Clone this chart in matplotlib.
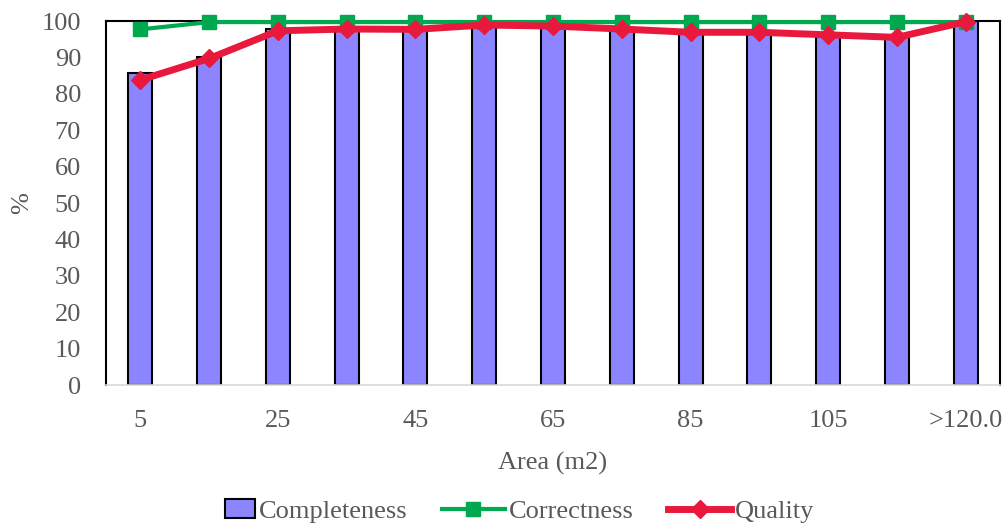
import matplotlib
matplotlib.use("Agg")
import matplotlib.pyplot as plt
from matplotlib.legend_handler import HandlerPatch
from matplotlib.patches import Rectangle
import numpy as np

categories = ["5", "15", "25", "35", "45", "55", "65", "75", "85", "95", "105", "115", ">120.0"]
completeness = [85.8, 90.0, 97.8, 98.0, 97.8, 99.0, 98.7, 98.0, 97.2, 97.0, 96.5, 95.8, 100.0]
correctness = [97.7, 99.7, 99.7, 99.7, 99.7, 99.7, 99.7, 99.7, 99.7, 99.7, 99.7, 99.7, 99.7]
quality = [83.8, 89.7, 97.3, 97.8, 97.7, 98.9, 98.6, 97.8, 96.9, 96.9, 96.2, 95.5, 99.8]
yticks = list(range(0, 101, 10))

plt.rcParams['font.family'] = ['Liberation Serif', 'DejaVu Serif']
text_color = '#595959'
fs = 19

fig = plt.figure(figsize=(10.06, 5.26), dpi=100)
ax = fig.add_axes([106 / 1006, 1 - 385 / 526, (1000 - 106) / 1006, (385 - 21) / 526])

x = np.arange(len(categories))
bars = ax.bar(x, completeness, width=0.35, color='#8C85FF', edgecolor='black', linewidth=1.5,
              label='Completeness', zorder=2)
line_corr, = ax.plot(x, correctness, color='#00A84F', linewidth=3, marker='s', markersize=10,
                     label='Correctness', zorder=5, clip_on=False)
line_qual, = ax.plot(x, quality, color='#E8193C', linewidth=5, marker='D', markersize=9,
                     label='Quality', zorder=6, clip_on=False)

ax.set_xlim(-0.5, len(categories) - 0.5)
ax.set_ylim(0, 100)
ax.set_yticks(yticks)
ax.set_yticklabels([str(v) for v in yticks])
ax.set_xticks(x[::2])
ax.set_xticklabels(categories[::2])
ax.tick_params(axis='both', length=0, labelsize=fs, colors=text_color)
ax.tick_params(axis='x', pad=18)
ax.tick_params(axis='y', pad=18)

for side in ('top', 'left', 'right'):
    ax.spines[side].set_color('black')
    ax.spines[side].set_linewidth(1.5)
    ax.spines[side].set_zorder(1)
ax.spines['bottom'].set_color('#D9D9D9')
ax.spines['bottom'].set_linewidth(1.2)

ax.set_xlabel('Area (m2)', fontsize=fs, color=text_color, va='center')
ax.xaxis.set_label_coords(0.5, (385 - 463) / 364)
ax.set_ylabel('%', fontsize=fs, color=text_color, va='center')
ax.yaxis.set_label_coords((22 - 106) / 894, 0.5)


def narrow_box(legend, orig_handle, xdescent, ydescent, width, height, fontsize):
    w = width * 0.47
    return Rectangle((-xdescent + width - w, -ydescent), w, height)


bar_patch = bars.patches[0]
fig.legend([bar_patch, line_corr, line_qual], ['Completeness', 'Correctness', 'Quality'],
           loc='center', bbox_to_anchor=(0.5, 1 - 511 / 526), ncol=3, frameon=False,
           fontsize=fs, handlelength=2.4, handleheight=0.75, columnspacing=1.3,
           handletextpad=0.15, labelcolor=text_color,
           handler_map={bar_patch: HandlerPatch(patch_func=narrow_box)})

fig.savefig('out.png', dpi=100)
